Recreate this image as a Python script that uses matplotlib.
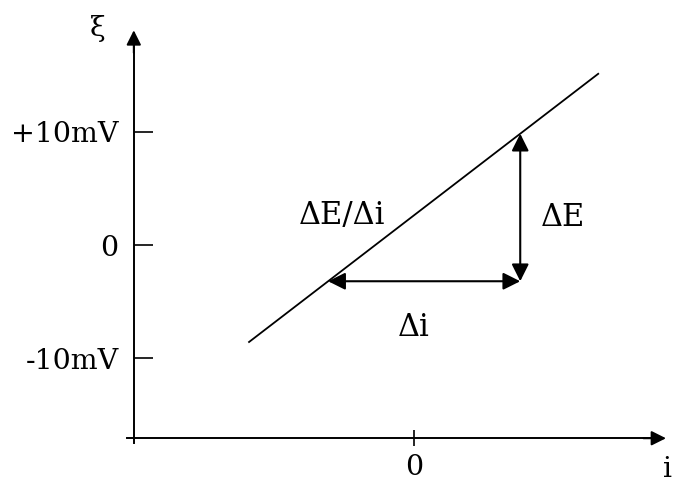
import numpy as np
import matplotlib.pyplot as plt

plt.rcParams['font.family'] = ['DejaVu Serif']

# polarisation line  xi = slope * i + offset
line_i = [-14.6, 16.3]
slope = 0.768
offset = 2.63

# slope triangle
delta_i = [-7.6, 9.4]

# axis ticks
y_ticks = [-10, 0, 10]
y_tick_labels = ['-10mV', '0', '+10mV']
x_ticks = [0]
x_tick_labels = ['0']

# axis placement in data units
y_axis_x = -24.8
x_axis_y = -17.1

FS = 20.5


def line_xi(i):
    return slope * np.asarray(i) + offset


fig = plt.figure(figsize=(6.86, 4.83), dpi=100)
ax = fig.add_axes([0, 0, 1, 1])
ax.set_xlim(-36.64, 24.07)
ax.set_ylim(-21.06, 21.68)
ax.patch.set_alpha(0)

# axes as spines crossing at (y_axis_x, x_axis_y)
for s in ['top', 'right']:
    ax.spines[s].set_visible(False)
ax.spines['left'].set_position(('data', y_axis_x))
ax.spines['bottom'].set_position(('data', x_axis_y))
ax.spines['left'].set_bounds(x_axis_y - 0.45, 17.8)
ax.spines['bottom'].set_bounds(y_axis_x - 0.6, 21.0)
for s in ['left', 'bottom']:
    ax.spines[s].set_linewidth(1.4)

ax.set_yticks(y_ticks, y_tick_labels)
ax.set_xticks(x_ticks, x_tick_labels)
ax.tick_params(axis='y', direction='in', length=13.5, width=1.2, pad=11, labelsize=FS)
ax.tick_params(axis='x', direction='inout', length=12, width=1.2, pad=5, labelsize=FS)

# arrow heads on the axes
head = dict(arrowstyle='-|>', color='black', lw=1.4, mutation_scale=22,
            shrinkA=0, shrinkB=0)
ax.annotate('', xy=(y_axis_x, 19.0), xytext=(y_axis_x, 17.0), arrowprops=head)
ax.annotate('', xy=(22.3, x_axis_y), xytext=(20.3, x_axis_y), arrowprops=head)
ax.text(-28.0, 19.2, 'ξ', fontsize=FS, ha='center', va='center')
ax.text(22.4, -19.9, 'i', fontsize=FS, ha='center', va='center')

# the line
ax.plot(line_i, line_xi(line_i), color='black', lw=1.3)

# triangle arrows
y0 = float(line_xi(delta_i[0]))
y1 = float(line_xi(delta_i[1]))
dbl = dict(arrowstyle='<|-|>', color='black', lw=1.5, mutation_scale=26,
           shrinkA=0, shrinkB=0)
ax.annotate('', xy=(delta_i[0], y0), xytext=(delta_i[1], y0), arrowprops=dbl)
ax.annotate('', xy=(delta_i[1], y1), xytext=(delta_i[1], y0), arrowprops=dbl)

ax.text(-6.4, 2.6, 'ΔE/Δi', fontsize=FS + 1.5, ha='center', va='center')
ax.text(13.2, 2.4, 'ΔE', fontsize=FS + 1.5, ha='center', va='center')
ax.text(0.0, -7.3, 'Δi', fontsize=FS + 1.5, ha='center', va='center')

fig.savefig('out.png', dpi=100)
